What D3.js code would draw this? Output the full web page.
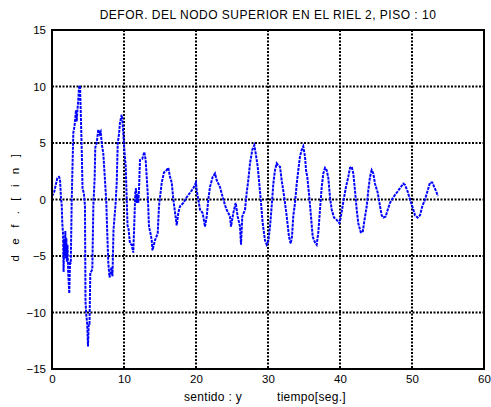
<!DOCTYPE html>
<html>
<head>
<meta charset="utf-8">
<script src="https://cdn.jsdelivr.net/npm/d3@7"></script>
<style>
  html, body { margin: 0; padding: 0; background: #fff; }
  svg { display: block; font-family: "Liberation Sans", Arial, sans-serif; }
</style>
</head>
<body>
<svg id="chart" width="491" height="407"></svg>
<script>
// Deformation of the top node, rail 2, floor 10 (direction y)
const timeSec = [
  0.00, 0.32, 0.49, 0.74, 0.97, 1.11, 1.25, 1.35, 1.43, 1.53, 1.61, 1.69, 1.78, 1.85, 1.92, 1.99,
  2.06, 2.15, 2.25, 2.40, 2.50, 2.61, 2.74, 2.78, 2.96, 3.13, 3.33, 3.43, 3.54, 3.65, 3.75, 3.89,
  3.99, 4.13, 4.24, 4.44, 4.58, 4.65, 4.76, 4.89, 5.00, 5.10, 5.21, 5.32, 5.60, 5.74, 5.93, 6.01,
  6.21, 6.43, 6.60, 6.76, 6.94, 7.12, 7.36, 7.54, 7.64, 7.82, 7.99, 8.13, 8.26, 8.40, 8.54, 8.82,
  8.99, 9.13, 9.31, 9.44, 9.68, 9.79, 9.90, 10.07, 10.24, 10.38, 10.49, 10.63, 10.83, 11.07, 11.29, 11.43,
  11.57, 11.67, 11.76, 11.88, 11.99, 12.08, 12.22, 12.54, 12.82, 13.01, 13.29, 13.47, 13.68, 13.85, 13.96, 14.07,
  14.31, 14.68, 14.86, 15.24, 15.56, 15.93, 16.15, 16.39, 16.63, 16.85, 17.08, 17.32, 17.54, 17.78, 18.24, 18.71,
  19.17, 19.63, 20.00, 20.10, 20.32, 20.56, 20.93, 21.25, 21.49, 21.71, 21.94, 22.32, 22.64, 22.88, 23.33, 23.71,
  24.03, 24.26, 24.49, 24.72, 24.86, 25.18, 25.51, 25.79, 26.11, 26.25, 26.43, 26.81, 27.04, 27.26, 27.50, 27.82,
  28.10, 28.29, 28.57, 28.79, 29.03, 29.26, 29.58, 29.82, 30.04, 30.28, 30.51, 30.74, 30.97, 31.21, 31.43, 31.67,
  31.90, 32.26, 32.60, 32.92, 33.15, 33.33, 33.51, 33.75, 33.99, 34.21, 34.44, 34.68, 34.90, 35.14, 35.28, 35.46,
  35.74, 35.97, 36.21, 36.53, 36.76, 36.99, 37.22, 37.46, 37.68, 37.92, 38.15, 38.38, 38.61, 38.85, 39.17, 39.54,
  39.90, 40.10, 40.46, 40.83, 41.15, 41.39, 41.63, 41.85, 42.08, 42.32, 42.54, 42.88, 43.15, 43.33, 43.71, 43.93,
  44.17, 44.40, 44.63, 44.86, 45.24, 45.56, 45.79, 46.01, 46.35, 46.63, 46.94, 47.40, 47.88, 48.33, 48.79, 49.03,
  49.40, 49.72, 50.04, 50.42, 50.79, 51.11, 51.43, 51.81, 52.18, 52.50, 52.82, 53.10, 53.43, 53.57
];
const deformIn = [
  0.3, 0.7, 1.2, 1.9, 2.0, 1.8, 0.1, -0.5, -2.1, -3.0, -6.4, -3.5, -5.0, -2.8, -5.2, -3.4,
  -5.5, -4.0, -6.5, -8.3, -5.6, -5.6, 0.0, 1.1, 5.9, 6.5, 7.9, 6.9, 8.0, 8.8, 9.9, 10.1,
  7.9, 4.4, 1.0, 0.5, -0.6, -9.0, -10.2, -11.0, -13.0, -11.0, -11.0, -6.5, -6.2, -0.6, 2.0, 4.6,
  5.0, 6.2, 5.8, 6.0, 4.8, 4.1, 1.7, -0.2, -2.3, -5.6, -6.9, -6.5, -6.0, -6.8, -2.7, -0.5,
  1.5, 5.0, 5.8, 6.8, 7.5, 6.9, 5.9, 4.2, 2.9, 0.0, -2.3, -2.6, -3.9, -4.0, -4.7, -2.1,
  0.6, 1.0, -0.3, 0.5, -0.3, 0.8, 3.5, 3.6, 4.2, 3.5, 0.6, -2.4, -3.0, -3.6, -4.5, -4.2,
  -3.6, -3.0, -0.6, 1.5, 2.4, 2.6, 2.8, 2.0, 1.5, 0.0, -1.1, -2.3, -1.2, -0.6, -0.3, 0.2,
  0.6, 1.0, 1.5, 0.8, 0.0, -0.9, -1.2, -2.4, -1.5, 0.0, 1.1, 2.0, 2.3, 1.7, 1.1, 0.2,
  -0.5, -0.9, -1.2, -1.5, -2.4, -1.2, -0.3, -1.5, -2.4, -4.0, -1.5, -0.9, 0.6, 1.7, 3.2, 4.4,
  4.8, 4.1, 2.9, 1.4, -0.3, -2.1, -3.6, -4.0, -3.7, -2.4, -0.6, 1.4, 2.6, 3.2, 3.0, 2.9,
  1.7, 0.2, -1.5, -3.3, -3.9, -3.3, -1.5, -0.3, 1.4, 2.6, 3.8, 4.4, 4.7, 3.8, 2.6, 2.0,
  0.2, -1.5, -3.3, -3.8, -4.0, -2.9, -0.9, 1.1, 2.3, 2.8, 2.6, 1.9, 0.2, -0.9, -1.6, -1.8,
  -2.1, -1.6, -0.2, 1.1, 2.0, 2.8, 2.9, 2.3, 0.8, -0.9, -2.1, -2.9, -2.9, -2.1, -0.6, 0.8,
  2.0, 2.6, 2.3, 1.4, 0.6, -0.6, -1.4, -1.6, -1.5, -0.9, -0.3, 0.2, 0.6, 1.0, 1.4, 1.3,
  0.7, 0.0, -0.6, -1.4, -1.6, -1.4, -0.6, 0.0, 0.8, 1.5, 1.5, 1.1, 0.6, 0.3
];
const xTicks = [0, 10, 20, 30, 40, 50, 60];
const yTicks = [-15, -10, -5, 0, 5, 10, 15];

const titleText = "DEFOR. DEL NODO SUPERIOR EN EL RIEL 2, PISO : 10";
const yLabelText = "d e f . [ i n ]";
const xLabelLeft = "sentido : y";
const xLabelRight = "tiempo[seg.]";

const margin = { left: 52, right: 7, top: 30, bottom: 38 };
const width = 491, height = 407;
const svg = d3.select("#chart");

const x = d3.scaleLinear().domain([0, 60]).range([margin.left, width - margin.right]);
const y = d3.scaleLinear().domain([-15, 15]).range([height - margin.bottom, margin.top]);

const x0 = x.range()[0], x1 = x.range()[1];
const y0 = y.range()[1], y1 = y.range()[0];

svg.append("rect").attr("width", width).attr("height", height).attr("fill", "#fff");

// dotted grid
const grid = svg.append("g").attr("stroke", "#000").attr("stroke-width", 2)
  .attr("stroke-dasharray", "2,1.5");
grid.selectAll("line.gx").data(xTicks.slice(1, -1)).join("line")
  .attr("x1", d => x(d)).attr("x2", d => x(d)).attr("y1", y0).attr("y2", y1);
grid.selectAll("line.gy").data(yTicks.slice(1, -1)).join("line")
  .attr("x1", x0).attr("x2", x1).attr("y1", d => y(d)).attr("y2", d => y(d));

// axes
const xAxis = d3.axisBottom(x).tickValues(xTicks).tickSize(0).tickPadding(6);
const yAxis = d3.axisLeft(y).tickValues(yTicks).tickSize(0).tickPadding(6);
const gx = svg.append("g").attr("transform", `translate(0,${y1})`).call(xAxis);
const gy = svg.append("g").attr("transform", `translate(${x0},0)`).call(yAxis);
[gx, gy].forEach(g => {
  g.select(".domain").remove();
  g.selectAll("text").attr("font-size", 11.5).attr("fill", "#000")
    .attr("font-family", "'Liberation Sans', Arial, sans-serif");
});

// series line
const line = d3.line().x((d, i) => x(timeSec[i])).y(d => y(d));
svg.append("path").datum(deformIn)
  .attr("d", line)
  .attr("fill", "none")
  .attr("stroke", "#0000ff")
  .attr("stroke-width", 2)
  .attr("stroke-dasharray", "3,1");

// frame
svg.append("rect").attr("x", x0).attr("y", y0).attr("width", x1 - x0).attr("height", y1 - y0)
  .attr("fill", "none").attr("stroke", "#000").attr("stroke-width", 2);

// title and labels
svg.append("text").attr("x", (x0 + x1) / 2).attr("y", 19).attr("text-anchor", "middle")
  .attr("font-size", 12).attr("letter-spacing", 0.5).text(titleText);
svg.append("text").attr("x", 184).attr("y", 401)
  .attr("font-size", 12).attr("letter-spacing", 0.3).text(xLabelLeft);
svg.append("text").attr("x", 277).attr("y", 401)
  .attr("font-size", 12).attr("letter-spacing", 0.3).text(xLabelRight);
svg.append("text").attr("transform", `translate(19,206) rotate(-90)`)
  .attr("text-anchor", "middle").attr("font-size", 11.5).attr("letter-spacing", 3.6)
  .text(yLabelText);
</script>
</body>
</html>
